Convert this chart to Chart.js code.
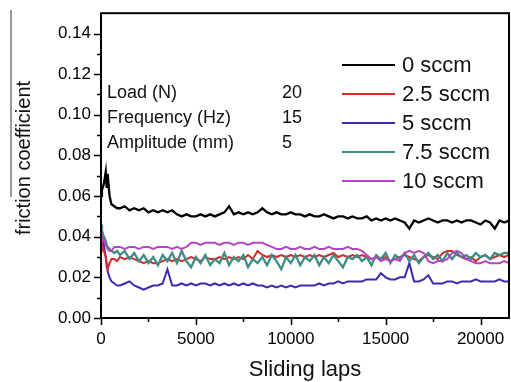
<!DOCTYPE html>
<html>
<head>
<meta charset="utf-8">
<script src="https://cdn.jsdelivr.net/npm/chart.js@4.4.1/dist/chart.umd.min.js"></script>
<style>
  body { margin: 0; background: #fff; }
  #wrap { width: 511px; height: 382px; position: relative; }
</style>
</head>
<body>
<div id="wrap"><canvas id="grafico"></canvas></div>
<script>
// sliding laps (x) shared by every run
const laps = [0, 50, 150, 250, 300, 350, 450, 550, 700, 850,
  1000, 1250, 1500, 1750, 2000, 2250, 2500, 2750, 3000, 3250,
  3500, 3750, 4000, 4250, 4500, 4750, 5000, 5250, 5500, 5750,
  6000, 6250, 6500, 6750, 7000, 7250, 7500, 7750, 8000, 8250,
  8500, 8750, 9000, 9250, 9500, 9750, 10000, 10250, 10500, 10750,
  11000, 11250, 11500, 11750, 12000, 12250, 12500, 12750, 13000, 13250,
  13500, 13750, 14000, 14250, 14500, 14750, 15000, 15250, 15500, 15750,
  16000, 16250, 16500, 16750, 17000, 17250, 17500, 17750, 18000, 18250,
  18500, 18750, 19000, 19250, 19500, 19750, 20000, 20250, 20500, 20750,
  21000, 21250, 21500]

const rotulos = ['0 sccm', '2.5 sccm', '5 sccm', '7.5 sccm', '10 sccm']
const cores = ['#000000', '#d42a2a', '#3b2db0', '#3f8c84', '#b345c2']
const espessuras = [2.3, 2, 2, 2.3, 2]

const mu0 = [0.060, 0.063, 0.066, 0.072, 0.064, 0.071, 0.060, 0.056, 0.055, 0.054,
  0.054, 0.055, 0.053, 0.054, 0.053, 0.054, 0.052, 0.053, 0.052, 0.053,
  0.052, 0.053, 0.051, 0.050, 0.051, 0.050, 0.050, 0.051, 0.050, 0.051,
  0.050, 0.051, 0.052, 0.055, 0.051, 0.052, 0.051, 0.052, 0.051, 0.052,
  0.054, 0.052, 0.051, 0.052, 0.051, 0.051, 0.052, 0.051, 0.051, 0.050,
  0.051, 0.050, 0.050, 0.051, 0.050, 0.049, 0.050, 0.050, 0.049, 0.050,
  0.049, 0.049, 0.050, 0.048, 0.049, 0.048, 0.049, 0.048, 0.049, 0.048,
  0.047, 0.044, 0.048, 0.047, 0.048, 0.049, 0.048, 0.047, 0.048, 0.048,
  0.047, 0.048, 0.047, 0.048, 0.048, 0.047, 0.046, 0.048, 0.047, 0.044,
  0.048, 0.047, 0.048]

const mu25 = [0.038, 0.036, 0.033, 0.030, 0.025, 0.024, 0.027, 0.029, 0.029, 0.028,
  0.030, 0.029, 0.030, 0.029, 0.028, 0.027, 0.028, 0.027, 0.027, 0.028,
  0.029, 0.028, 0.029, 0.028, 0.029, 0.030, 0.029, 0.028, 0.030, 0.029,
  0.029, 0.030, 0.029, 0.030, 0.029, 0.030, 0.029, 0.031, 0.029, 0.033,
  0.031, 0.030, 0.031, 0.030, 0.031, 0.030, 0.031, 0.030, 0.031, 0.030,
  0.031, 0.030, 0.031, 0.030, 0.031, 0.032, 0.030, 0.031, 0.030, 0.031,
  0.030, 0.031, 0.030, 0.029, 0.030, 0.029, 0.030, 0.028, 0.029, 0.030,
  0.031, 0.030, 0.029, 0.028, 0.030, 0.031, 0.030, 0.029, 0.032, 0.033,
  0.033, 0.031, 0.030, 0.029, 0.030, 0.028, 0.030, 0.031, 0.029, 0.030,
  0.031, 0.030, 0.031]

const mu5 = [0.042, 0.040, 0.036, 0.030, 0.027, 0.023, 0.020, 0.018, 0.017, 0.016,
  0.016, 0.017, 0.018, 0.016, 0.015, 0.014, 0.015, 0.016, 0.016, 0.017,
  0.024, 0.016, 0.016, 0.017, 0.016, 0.017, 0.016, 0.017, 0.017, 0.016,
  0.017, 0.016, 0.017, 0.016, 0.017, 0.016, 0.017, 0.016, 0.017, 0.016,
  0.016, 0.015, 0.016, 0.015, 0.016, 0.015, 0.016, 0.015, 0.016, 0.016,
  0.016, 0.016, 0.017, 0.016, 0.017, 0.017, 0.018, 0.017, 0.018, 0.018,
  0.018, 0.018, 0.019, 0.019, 0.019, 0.022, 0.020, 0.019, 0.019, 0.020,
  0.020, 0.027, 0.018, 0.018, 0.019, 0.021, 0.017, 0.017, 0.017, 0.018,
  0.018, 0.017, 0.018, 0.018, 0.018, 0.019, 0.018, 0.018, 0.018, 0.018,
  0.019, 0.018, 0.018]

const mu75 = [0.046, 0.043, 0.040, 0.038, 0.036, 0.035, 0.034, 0.033, 0.032, 0.033,
  0.031, 0.033, 0.029, 0.032, 0.028, 0.031, 0.027, 0.030, 0.026, 0.031,
  0.028, 0.032, 0.027, 0.033, 0.028, 0.025, 0.030, 0.027, 0.031, 0.026,
  0.029, 0.027, 0.032, 0.026, 0.030, 0.028, 0.031, 0.025, 0.029, 0.027,
  0.030, 0.026, 0.031, 0.028, 0.024, 0.030, 0.027, 0.031, 0.026, 0.030,
  0.028, 0.031, 0.026, 0.030, 0.027, 0.031, 0.028, 0.025, 0.030, 0.029,
  0.031, 0.028, 0.030, 0.026, 0.031, 0.029, 0.032, 0.027, 0.031, 0.029,
  0.032, 0.028, 0.031, 0.027, 0.030, 0.032, 0.029, 0.031, 0.028, 0.032,
  0.029, 0.032, 0.030, 0.031, 0.029, 0.032, 0.030, 0.031, 0.029, 0.032,
  0.031, 0.032, 0.032]

const mu10 = [0.042, 0.040, 0.038, 0.036, 0.035, 0.034, 0.033, 0.033, 0.035, 0.035,
  0.035, 0.034, 0.035, 0.035, 0.034, 0.035, 0.035, 0.034, 0.035, 0.035,
  0.035, 0.034, 0.035, 0.034, 0.035, 0.037, 0.037, 0.036, 0.037, 0.037,
  0.037, 0.036, 0.037, 0.037, 0.036, 0.037, 0.037, 0.036, 0.037, 0.037,
  0.037, 0.036, 0.035, 0.034, 0.034, 0.035, 0.034, 0.034, 0.035, 0.034,
  0.034, 0.035, 0.034, 0.034, 0.035, 0.034, 0.034, 0.034, 0.035, 0.034,
  0.034, 0.033, 0.031, 0.029, 0.030, 0.028, 0.029, 0.028, 0.029, 0.028,
  0.032, 0.033, 0.032, 0.033, 0.032, 0.028, 0.027, 0.028, 0.028, 0.029,
  0.032, 0.033, 0.032, 0.029, 0.028, 0.027, 0.027, 0.028, 0.027, 0.027,
  0.027, 0.028, 0.027]

const series = [mu0, mu25, mu5, mu75, mu10]
// drawing order: lower number ends up on top
const ordem = [3, 4, 5, 2, 1]

// axis ticks (every other one gets a label)
const ticksX = [0, 2500, 5000, 7500, 10000, 12500, 15000, 17500, 20000]
const ticksY = [0, 0.01, 0.02, 0.03, 0.04, 0.05, 0.06, 0.07, 0.08, 0.09, 0.10, 0.11, 0.12, 0.13, 0.14]

// test conditions box
const condicoes = ['Load (N)', 'Frequency (Hz)', 'Amplitude (mm)']
const valoresCond = ['20', '15', '5']

const fonte = "'Liberation Sans', Arial, sans-serif"
Chart.defaults.font.family = fonte
Chart.defaults.color = '#111'

const pontos = (vals) => laps.map((x, i) => ({ x: x, y: vals[i] }))

const extras = {
    id: 'extras',
    afterDraw(chart) {
        const ctx = chart.ctx
        const a = chart.chartArea
        const sx = chart.scales.x
        const sy = chart.scales.y
        ctx.save()

        // frame
        ctx.strokeStyle = '#000'
        ctx.lineWidth = 2
        ctx.strokeRect(a.left, a.top, a.right - a.left, a.bottom - a.top)

        // tick marks, long on labelled values
        ctx.lineWidth = 1.5
        ctx.beginPath()
        sy.ticks.forEach((t, i) => {
            const y = Math.round(sy.getPixelForValue(t.value)) + 0.5
            const len = i % 2 === 0 ? 7 : 4
            ctx.moveTo(a.left, y)
            ctx.lineTo(a.left - len, y)
        })
        sx.ticks.forEach((t, i) => {
            const x = Math.round(sx.getPixelForValue(t.value)) + 0.5
            const len = i % 2 === 0 ? 7 : 4
            ctx.moveTo(x, a.bottom)
            ctx.lineTo(x, a.bottom + len)
        })
        ctx.stroke()

        // axis titles
        ctx.fillStyle = '#111'
        ctx.font = '22px ' + fonte
        ctx.textAlign = 'center'
        ctx.textBaseline = 'alphabetic'
        ctx.fillText('Sliding laps', (a.left + a.right) / 2, 376)

        ctx.save()
        ctx.translate(30, 158)
        ctx.rotate(-Math.PI / 2)
        ctx.font = '20px ' + fonte
        ctx.fillText('friction coefficient', 0, 0)
        ctx.restore()

        ctx.strokeStyle = '#777'
        ctx.lineWidth = 1.5
        ctx.beginPath()
        ctx.moveTo(11, 10)
        ctx.lineTo(11, 197)
        ctx.stroke()

        // conditions
        ctx.font = '18px ' + fonte
        ctx.textAlign = 'left'
        condicoes.forEach((txt, i) => {
            ctx.fillText(txt, 107, 98 + i * 25)
            ctx.fillText(valoresCond[i], 282, 98 + i * 25)
        })

        // legend
        ctx.font = '22px ' + fonte
        ctx.textBaseline = 'middle'
        chart.data.datasets.forEach((ds, i) => {
            const y = 65 + i * 29
            ctx.strokeStyle = ds.borderColor
            ctx.lineWidth = 2
            ctx.beginPath()
            ctx.moveTo(342, y)
            ctx.lineTo(395, y)
            ctx.stroke()
            ctx.fillText(ds.label, 402, y + 1)
        })
        ctx.restore()
    }
}

new Chart(document.getElementById('grafico'), {
    type: 'line',
    data: {
        datasets: series.map((vals, i) => ({
            label: rotulos[i],
            data: pontos(vals),
            borderColor: cores[i],
            borderWidth: espessuras[i],
            pointRadius: 0,
            tension: 0,
            order: ordem[i]
        }))
    },
    options: {
        responsive: true,
        maintainAspectRatio: false,
        animation: false,
        devicePixelRatio: 1,
        layout: { padding: { top: 13, right: 2, left: 0, bottom: 0 } },
        plugins: {
            legend: { display: false },
            tooltip: { enabled: false }
        },
        scales: {
            x: {
                type: 'linear',
                min: 0,
                max: 21500,
                afterBuildTicks: (s) => { s.ticks = ticksX.map(v => ({ value: v })) },
                afterFit: (s) => { s.height = 64 },
                border: { display: false },
                grid: { display: false, drawTicks: true, tickLength: 7 },
                ticks: {
                    autoSkip: false,
                    maxRotation: 0,
                    padding: 4,
                    color: '#000',
                    font: { size: 17 },
                    callback: (v, i) => (i % 2 === 0 ? String(v) : '')
                }
            },
            y: {
                min: 0,
                max: 0.15,
                afterBuildTicks: (s) => { s.ticks = ticksY.map(v => ({ value: v })) },
                afterFit: (s) => { s.width = 101 },
                border: { display: false },
                grid: { display: false, drawTicks: true, tickLength: 7 },
                ticks: {
                    autoSkip: false,
                    padding: 3,
                    color: '#000',
                    font: { size: 17 },
                    callback: (v, i) => (i % 2 === 0 ? v.toFixed(2) : '')
                }
            }
        }
    },
    plugins: [extras]
})
</script>
</body>
</html>
